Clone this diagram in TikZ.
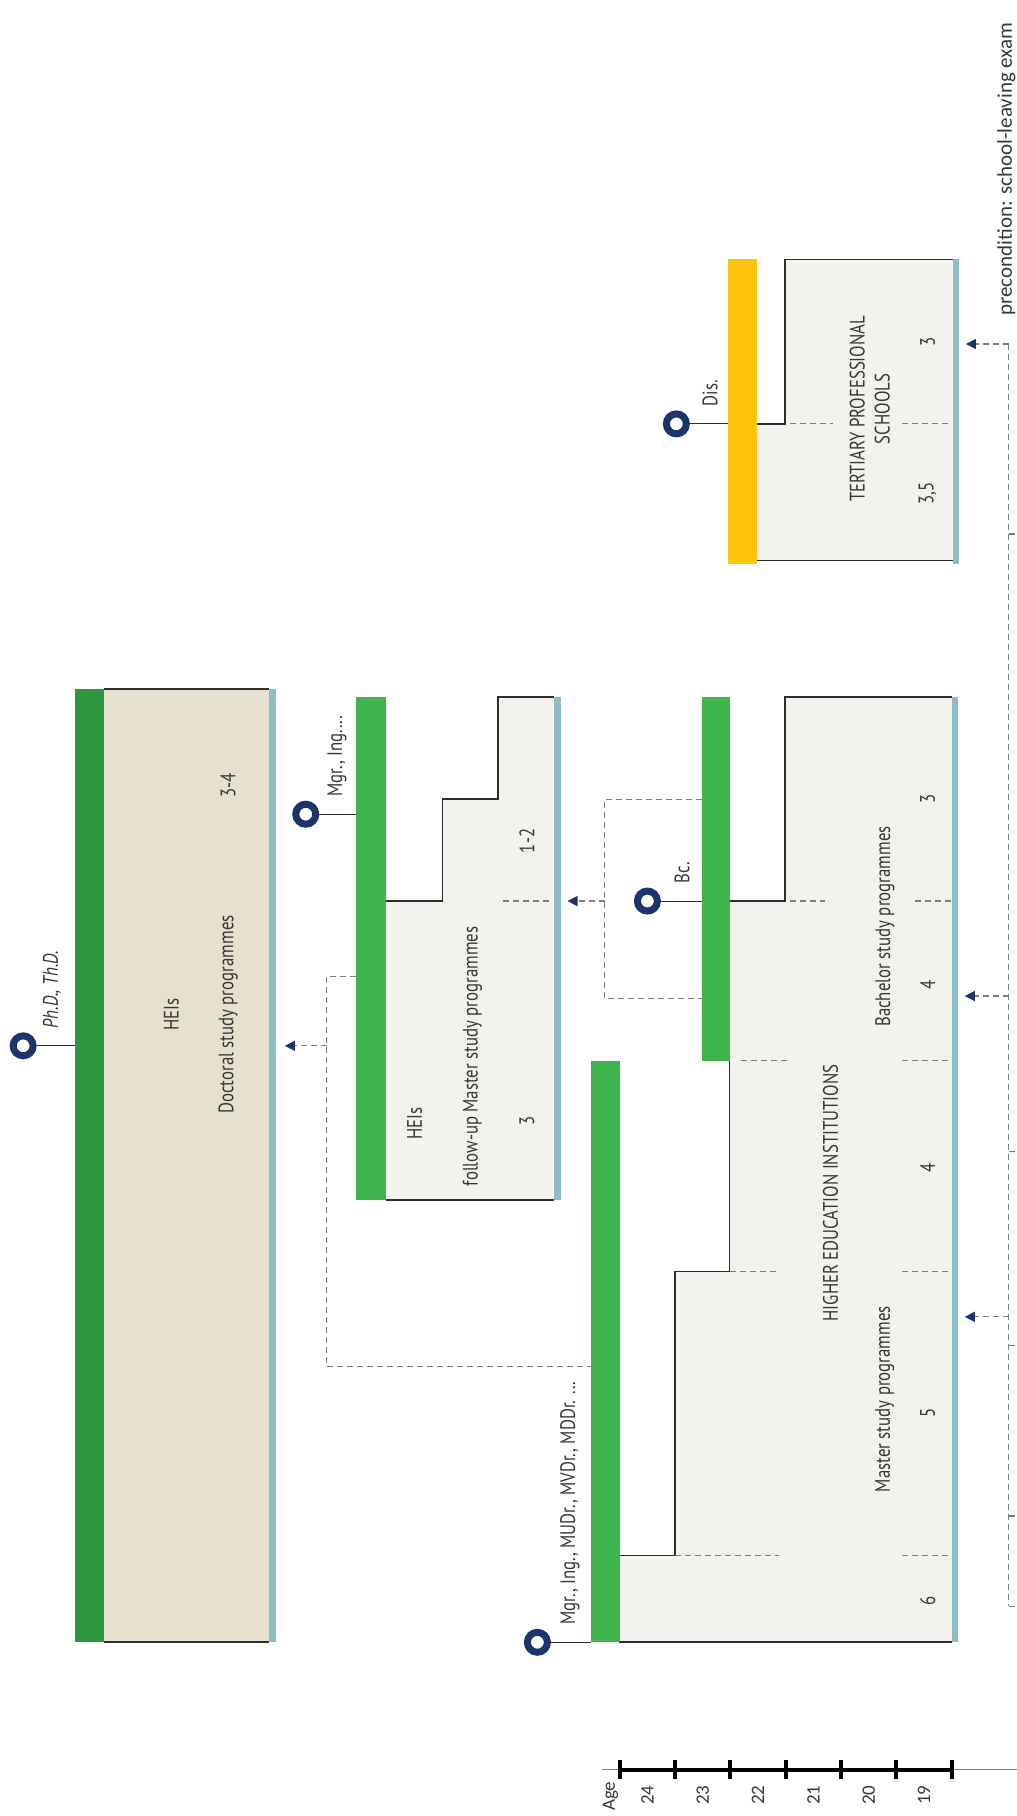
\documentclass[tikz,border=0pt]{standalone}
\usepackage{fontspec}
\setmainfont{Carlito}
\newfontfamily\condfont{PT Sans}[FakeStretch=0.8]
\usetikzlibrary{arrows.meta}

\definecolor{darkgreen}{RGB}{46,150,62}
\definecolor{brightgreen}{RGB}{62,180,76}
\definecolor{disyellow}{RGB}{255,196,12}
\definecolor{tealline}{RGB}{138,190,196}
\definecolor{navy}{RGB}{28,52,108}
\definecolor{docfill}{RGB}{230,224,206}
\definecolor{heifill}{RGB}{244,242,239}
\definecolor{boxgray}{RGB}{45,45,45}
\definecolor{dashgray}{RGB}{125,125,125}
\definecolor{txtgray}{RGB}{55,55,55}

\begin{document}
\begin{tikzpicture}[x=0.5791pt, y=-0.5791pt,
    boxline/.style={draw=boxgray, line width=0.8pt},
    degree/.style={circle, draw=navy, line width=3.5pt, minimum size=10pt, inner sep=0pt},
    degline/.style={draw=boxgray, line width=0.5pt},
    dashline/.style={draw=dashgray, line width=0.6pt, dash pattern=on 3pt off 2pt},
    entry/.style={dashline, -{Triangle[length=5pt, width=5pt, color=navy]}},
    boxtext/.style={font={\condfont\fontsize{10.5}{12.5}\selectfont}, text=txtgray, rotate=90, inner sep=0pt},
    degtext/.style={boxtext, anchor=west},
    agetext/.style={font={\fontsize{9.5}{11}\selectfont}, text=txtgray, rotate=90, inner sep=0pt}]

    \useasboundingbox (0,0) rectangle (878,1568);

    % Doctoral study programmes
    \fill[docfill] (90,595) rectangle (232,1418);
    \draw[boxline] (90,595) -- (232,595) (90,1418) -- (232,1418);
    \fill[darkgreen] (65,595) rectangle (90,1418);
    \fill[tealline] (232,595) rectangle (238,1418);
    \node[boxtext] (dochei) at (148,876) {HEIs};
    \node[boxtext] (doc) at (197,876) {Doctoral study programmes};
    \node[boxtext] (docyears) at (197,678) {3-4};
    \node[degree] (phd) at (20,903) {};
    \coordinate (phdbar) at (65,903);
    \draw[degline] (phd) -- (phdbar);
    \node[degtext] (phdlabel) at (45,888) {\itshape Ph.D., Th.D.};

    % Follow-up Master study programmes
    \fill[heifill] (333,778) -- (382,778) -- (382,690) -- (430,690) -- (430,602)
        -- (478,602) -- (478,1036) -- (333,1036) -- cycle;
    \draw[boxline] (333,778) -- (382,778) -- (382,690) -- (430,690) -- (430,602) -- (478,602)
        (333,1036) -- (478,1036);
    \draw[dashline] (434,778) -- (477,778);
    \fill[brightgreen] (307,602) rectangle (333,1036);
    \fill[tealline] (478,602) rectangle (484,1036);
    \node[boxtext] (fuhei) at (358,970) {HEIs};
    \node[boxtext] (fu) at (408,912) {follow-up Master study programmes};
    \node[boxtext] (fu3) at (455,968) {3};
    \node[boxtext] (fu12) at (455,726) {1-2};
    \node[degree] (mgr) at (264,703) {};
    \coordinate (mgrbar) at (307,703);
    \draw[degline] (mgr) -- (mgrbar);
    \node[degtext] (mgrlabel) at (291,688) {Mgr., Ing....};

    % Higher education institutions
    \fill[heifill] (678,602) -- (822,602) -- (822,1418) -- (535,1418) -- (535,1343) -- (583,1343)
        -- (583,1098) -- (630,1098) -- (630,778) -- (678,778) -- cycle;
    \draw[boxline] (822,602) -- (678,602) -- (678,778) -- (630,778) -- (630,1098) -- (583,1098)
        -- (583,1343) -- (535,1343) -- (535,1418) -- (822,1418);
    \draw[dashline] (682,778) -- (712,778) (790,778) -- (821,778);
    \draw[dashline] (640,916) -- (682,916) (779,916) -- (821,916);
    \draw[dashline] (630,1098) -- (673,1098) (779,1098) -- (821,1098);
    \draw[dashline] (583,1343) -- (673,1343) (779,1343) -- (821,1343);
    \fill[brightgreen] (606,602) rectangle (630,916);
    \fill[brightgreen] (510,916) rectangle (535,1418);
    \fill[tealline] (822,602) rectangle (827,1418);
    \node[boxtext] (hei) at (717,1030) {HIGHER EDUCATION INSTITUTIONS};
    \node[boxtext] (bach) at (764,800) {Bachelor study programmes};
    \node[boxtext] (mast) at (764,1208) {Master study programmes};
    \foreach \yr/\yy [count=\i] in {3/690, 4/850, 4/1008, 5/1220, 6/1382}
        \node[boxtext] (heiyr\i) at (801,\yy) {\yr};
    \node[degree] (bc) at (559,778) {};
    \coordinate (bcbar) at (606,778);
    \draw[degline] (bc) -- (bcbar);
    \node[degtext] (bclabel) at (589,763) {Bc.};
    \node[degree] (mudr) at (464,1418) {};
    \coordinate (mudrbar) at (510,1418);
    \draw[degline] (mudr) -- (mudrbar);
    \node[degtext] (mudrlabel) at (492,1403) {Mgr., Ing., MUDr., MVDr., MDDr. ...};

    % Tertiary professional schools
    \fill[heifill] (678,224) -- (823,224) -- (823,484) -- (654,484) -- (654,366) -- (678,366) -- cycle;
    \draw[boxline] (654,366) -- (678,366) -- (678,224) -- (823,224) (654,484) -- (823,484);
    \draw[dashline] (682,366) -- (719,366) (779,366) -- (822,366);
    \fill[disyellow] (629,224) rectangle (654,487);
    \fill[tealline] (823,224) rectangle (828,487);
    \node[boxtext, align=center] (tps) at (751,353) {TERTIARY PROFESSIONAL\\SCHOOLS};
    \node[boxtext] (tps3) at (801,295) {3};
    \node[boxtext] (tps35) at (801,426) {3,5};
    \node[degree] (dis) at (584,366) {};
    \coordinate (disbar) at (629,366);
    \draw[degline] (dis) -- (disbar);
    \node[degtext] (dislabel) at (613,351) {Dis.};

    % Dashed paths between programmes
    \coordinate (bc3) at (606,690);
    \coordinate (bc4) at (606,862);
    \coordinate (bcfork) at (522,778);
    \coordinate (fuin) at (490,778);
    \draw[dashline] (bc3) -| (bcfork) |- (bc4);
    \draw[entry] (bcfork) -- (fuin);
    \coordinate (fuout) at (307,843);
    \coordinate (mastout) at (510,1180);
    \coordinate (docfork) at (282,903);
    \coordinate (docin) at (246,903);
    \draw[dashline] (fuout) -| (docfork) |- (mastout);
    \draw[entry] (docfork) -- (docin);

    % Precondition line
    \coordinate (prectop) at (871,297);
    \coordinate (precbot) at (871,1387);
    \draw[dashline] (prectop) -- (precbot);
    \draw[entry] (prectop) -- (834,297);
    \draw[entry] (871,860) -- (833,860);
    \draw[entry] (871,1137) -- (833,1137);
    \foreach \yy in {461,994,1162,1309,1387}
        \draw[dashline] (871,\yy) -- ++(9,0);
    \node[agetext, font={\fontsize{10.5}{12}\selectfont}] (prec) at (869,146) {precondition: school-leaving exam};

    % Age axis
    \draw[gray, line width=0.5pt] (520,1528) -- (878,1528);
    \draw[black, line width=2pt] (535,1528) -- (822,1528);
    \foreach \i in {0,...,6}
        \draw[black, line width=2pt] ({535+47.77*\i},1520) -- ++(0,16);
    \node[agetext, anchor=west] (age) at (527,1564) {Age};
    \foreach \a [count=\i from 0] in {24,23,22,21,20,19}
        \node[agetext] (age\a) at ({559+47.77*\i},1550) {\a};

\end{tikzpicture}
\end{document}
